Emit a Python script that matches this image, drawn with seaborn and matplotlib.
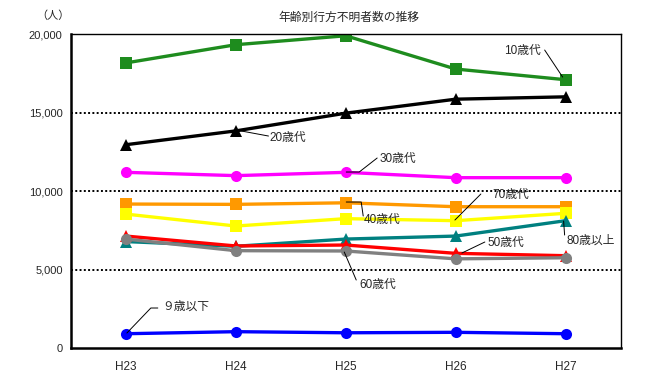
import numpy as np
import pandas as pd
import matplotlib
matplotlib.use("Agg")
import matplotlib.pyplot as plt
import seaborn as sns
from matplotlib.ticker import FuncFormatter

sns.set_style("white")
plt.rcParams['font.family'] = ['Liberation Sans', 'Noto Sans CJK JP', 'DejaVu Sans']

# データ
years = ['H23', 'H24', 'H25', 'H26', 'H27']
age_10s = [18160, 19320, 19890, 17770, 17090]
age_20s = [12950, 13830, 14960, 15850, 16000]
age_30s = [11190, 10980, 11190, 10850, 10850]
age_40s = [9170, 9150, 9250, 9000, 9000]
age_70s = [8530, 7770, 8240, 8110, 8580]
age_80plus = [6780, 6480, 6940, 7130, 8110]
age_50s = [7130, 6500, 6560, 6030, 5880]
age_60s = [6940, 6200, 6180, 5680, 5750]
age_under9 = [910, 1040, 970, 1000, 910]

series = [
    ('10歳代', age_10s, '#1e8c1e', 's'),
    ('20歳代', age_20s, '#000000', '^'),
    ('30歳代', age_30s, '#ff00ff', 'o'),
    ('40歳代', age_40s, '#ff9900', 's'),
    ('70歳代', age_70s, '#ffff00', 's'),
    ('80歳以上', age_80plus, '#008080', '^'),
    ('50歳代', age_50s, '#ff0000', '^'),
    ('60歳代', age_60s, '#808080', 'o'),
    ('９歳以下', age_under9, '#0000ff', 'o'),
]

fig = plt.figure(figsize=(6.63, 3.74), dpi=100)
ax = fig.add_axes([0.107, 0.0695, 0.829, 0.8395])

xpos = np.arange(len(years))
for name, vals, col, mk in series:
    df = pd.DataFrame({'x': xpos, 'y': vals})
    sns.lineplot(data=df, x='x', y='y', ax=ax, color=col, marker=mk,
                 markersize=8, markeredgewidth=0, linewidth=2.4, legend=False)

# 点線グリッド
for yv in [5000, 10000, 15000]:
    ax.axhline(yv, color='black', linestyle=(0, (1, 1.2)), linewidth=1.4, zorder=0)

ax.set_xlim(-0.5, 4.5)
ax.set_ylim(0, 20000)
ax.set_yticks([0, 5000, 10000, 15000, 20000])
ax.yaxis.set_major_formatter(FuncFormatter(lambda v, p: f'{int(v):,}'))
ax.set_xticks(xpos)
ax.set_xticklabels(years)
ax.set_xticks(np.arange(-0.5, 5, 1), minor=True)
ax.tick_params(axis='x', which='major', length=0, labelsize=8.5, pad=9)
ax.tick_params(axis='x', which='minor', length=9, width=1.8, direction='inout', color='black')
ax.tick_params(axis='y', which='major', length=5, width=2, direction='out', color='black', labelsize=8, pad=1)
ax.set_xlabel('')
ax.set_ylabel('')
for side in ['left', 'bottom']:
    ax.spines[side].set_linewidth(1.8)
    ax.spines[side].set_color('black')
for side in ['top', 'right']:
    ax.spines[side].set_linewidth(1.0)
    ax.spines[side].set_color('black')

fig.text(0.526, 0.952, '年齢別行方不明者数の推移', ha='center', va='center', fontsize=8.5)
fig.text(0.08, 0.957, '（人）', ha='center', va='center', fontsize=8)

# ラベルと引出線
def label(text, tx, ty, pts, ha='left'):
    xs = [p[0] for p in pts]
    ys = [p[1] for p in pts]
    ax.plot(xs, ys, color='black', linewidth=0.7, zorder=5)
    ax.text(tx, ty, text, fontsize=8.5, ha=ha, va='center', zorder=6)

def px_to_data(px, py):
    # 画素座標をデータ座標に変換
    x = (px - 126) / 110.25
    y = (348 - py) / 314 * 20000
    return x, y

def lab(text, tpx, tpy, line_px):
    tx, ty = px_to_data(tpx, tpy)
    pts = [px_to_data(a, b) for a, b in line_px]
    label(text, tx, ty, pts)

lab('10歳代', 505, 51, [(546, 50), (564, 77)])
lab('20歳代', 270, 138, [(242, 131), (269, 136)])
lab('30歳代', 380, 159, [(347, 172), (360, 172), (378, 158)])
lab('40歳代', 364, 220, [(347, 202), (362, 202), (364, 216)])
lab('70歳代', 494, 195, [(456, 220), (482, 194)])
lab('50歳代', 489, 243, [(463, 253), (486, 242)])
lab('80歳以上', 568, 241, [(565, 221), (566, 235)])
lab('60歳代', 360, 285, [(345, 252), (357, 280)])
lab('９歳以下', 162, 307, [(127, 333), (151, 308), (158, 308)])

fig.savefig('out.png', dpi=100)
